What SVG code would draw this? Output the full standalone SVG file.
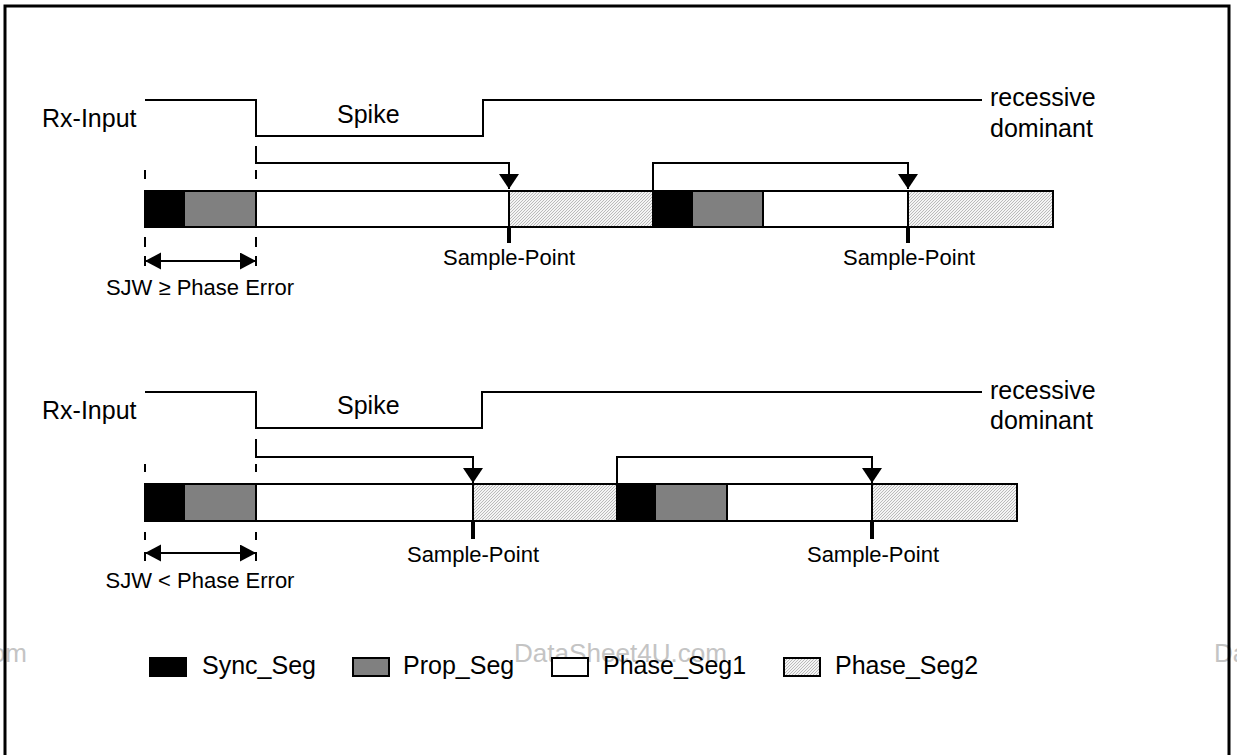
<svg xmlns="http://www.w3.org/2000/svg" width="1237" height="755" viewBox="0 0 1237 755">
<style>
.ln{fill:none;stroke:#000;stroke-width:2}
.t{font-family:"Liberation Sans",Arial,Helvetica,sans-serif;fill:#000}
.big{font-size:25px}
.sm{font-size:22px}
.wm{font-family:"Liberation Sans",Arial,sans-serif;font-size:26px;fill:#c4c4c4}
.seg{stroke:#000;stroke-width:2}
.sync{fill:#000}
.prop{fill:#808080}
.p1{fill:#fff}
.p2{fill:url(#hatch)}
.dash{stroke:#000;stroke-width:2}
.tick{stroke:#000;stroke-width:4}
.conn{fill:none;stroke:#000;stroke-width:2;marker-end:url(#arr)}
.sjw{fill:none;stroke:#000;stroke-width:2;marker-start:url(#dbl);marker-end:url(#dbl)}
</style>
<defs>
<pattern id="hatch" patternUnits="userSpaceOnUse" width="3" height="3">
<rect width="3" height="3" fill="#f4f4f4"/>
<path d="M-1,1 L1,-1 M0,3 L3,0 M2,4 L4,2" stroke="#a0a0a0" stroke-width="0.7"/>
</pattern>
<marker id="arr" markerUnits="userSpaceOnUse" markerWidth="16" markerHeight="20" refX="15" refY="10" orient="auto">
<path d="M0,0 L15,10 L0,20 z" fill="#000"/>
</marker>
<marker id="dbl" markerUnits="userSpaceOnUse" markerWidth="17" markerHeight="18" refX="16" refY="8.5" orient="auto-start-reverse">
<path d="M0,0 L16,8.5 L0,17 z" fill="#000"/>
</marker>
</defs>

<rect width="1237" height="755" fill="#fff"/>

<!-- watermarks -->
<text class="wm" x="27" y="662" text-anchor="end">om</text>
<text class="wm" x="514" y="662" textLength="213" lengthAdjust="spacingAndGlyphs">DataSheet4U.com</text>
<text class="wm" x="1214" y="662">Da</text>

<path d="M5,755 V6 H1229 V755" fill="none" stroke="#000" stroke-width="3"/>

<!-- ===== Upper panel ===== -->
<g id="upper-rx">
<text class="t big" x="42" y="127">Rx-Input</text>
<path class="ln" d="M145,100 H256 V136 H483 V100 H982"/>
<text class="t big" x="337" y="123">Spike</text>
<text class="t big" x="990" y="106">recessive</text>
<text class="t big" x="990" y="137">dominant</text>
</g>

<g id="upper-bar">
<rect class="seg sync" x="145" y="191" width="39" height="36"/>
<rect class="seg prop" x="184" y="191" width="72" height="36"/>
<rect class="seg p1" x="256" y="191" width="253" height="36"/>
<rect class="seg p2" x="509" y="191" width="144" height="36"/>
<rect class="seg sync" x="653" y="191" width="39" height="36"/>
<rect class="seg prop" x="692" y="191" width="71" height="36"/>
<rect class="seg p1" x="763" y="191" width="145" height="36"/>
<rect class="seg p2" x="908" y="191" width="145" height="36"/>
</g>

<g id="upper-sample1">
<line class="tick" x1="509" y1="227" x2="509" y2="243"/>
<text class="t sm" x="509" y="265" text-anchor="middle">Sample-Point</text>
</g>
<g id="upper-sample2">
<line class="tick" x1="908" y1="227" x2="908" y2="243"/>
<text class="t sm" x="909" y="265" text-anchor="middle">Sample-Point</text>
</g>

<g id="upper-sjw">
<path class="dash" d="M145,170 V179 M145,237 V247 M145,256 V266 M256,170 V179 M256,237 V247 M256,256 V266"/>
<path class="sjw" d="M145,261 H256"/>
<text class="t sm" x="200" y="295" text-anchor="middle">SJW ≥ Phase Error</text>
</g>

<!-- ===== Lower panel ===== -->
<g id="lower-rx">
<text class="t big" x="42" y="419">Rx-Input</text>
<path class="ln" d="M145,392 H256 V428 H482 V392 H982"/>
<text class="t big" x="337" y="414">Spike</text>
<text class="t big" x="990" y="399">recessive</text>
<text class="t big" x="990" y="429">dominant</text>
</g>

<g id="lower-bar">
<rect class="seg sync" x="145" y="484" width="39" height="37"/>
<rect class="seg prop" x="184" y="484" width="72" height="37"/>
<rect class="seg p1" x="256" y="484" width="217" height="37"/>
<rect class="seg p2" x="473" y="484" width="144" height="37"/>
<rect class="seg sync" x="617" y="484" width="38" height="37"/>
<rect class="seg prop" x="655" y="484" width="72" height="37"/>
<rect class="seg p1" x="727" y="484" width="145" height="37"/>
<rect class="seg p2" x="872" y="484" width="145" height="37"/>
</g>

<g id="lower-sample1">
<line class="tick" x1="473" y1="521" x2="473" y2="539"/>
<text class="t sm" x="473" y="562" text-anchor="middle">Sample-Point</text>
</g>
<g id="lower-sample2">
<line class="tick" x1="872" y1="521" x2="872" y2="539"/>
<text class="t sm" x="873" y="562" text-anchor="middle">Sample-Point</text>
</g>

<g id="lower-sjw">
<path class="dash" d="M145,464 V472 M145,532 V540 M145,552 V561 M256,464 V472 M256,532 V540 M256,552 V561"/>
<path class="sjw" d="M145,553 H256"/>
<text class="t sm" x="200" y="588" text-anchor="middle">SJW &lt; Phase Error</text>
</g>

<!-- connectors -->
<g id="connectors">
<path class="conn" d="M256,146 V163 H509 V189"/>
<path class="conn" d="M653,191 V163 H908 V189"/>
<path class="conn" d="M256,439 V457 H473 V483"/>
<path class="conn" d="M617,484 V457 H872 V483"/>
</g>

<!-- legend -->
<g id="legend-sync">
<rect class="sync" x="149" y="657" width="38" height="20"/>
<text class="t big" x="202" y="674">Sync_Seg</text>
</g>
<g id="legend-prop">
<rect class="seg prop" x="353" y="658" width="36" height="18"/>
<text class="t big" x="403" y="674">Prop_Seg</text>
</g>
<g id="legend-phase1">
<rect class="seg p1" x="552" y="658" width="36" height="18"/>
<text class="t big" x="603" y="674">Phase_Seg1</text>
</g>
<g id="legend-phase2">
<rect class="seg p2" x="784" y="658" width="36" height="18"/>
<text class="t big" x="835" y="674">Phase_Seg2</text>
</g>
</svg>
